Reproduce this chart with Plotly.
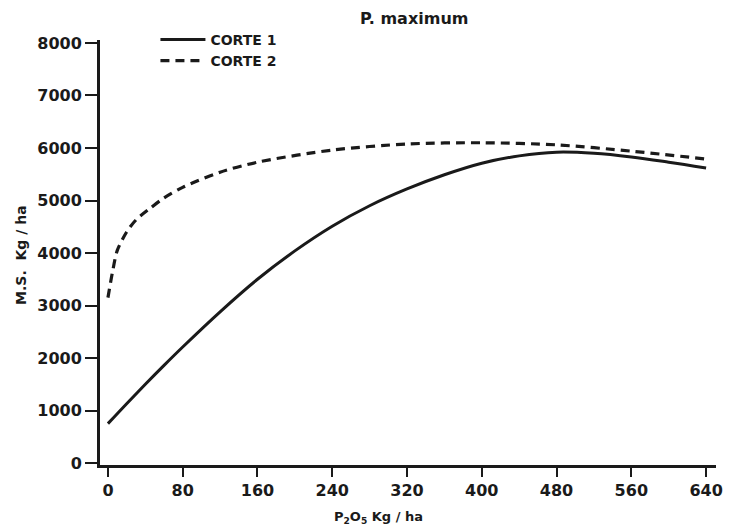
import plotly.graph_objects as go

# P2O5 dose (kg/ha) and dry-matter yield (kg/ha) for each cut
dose_c1 = [0, 20, 40, 60, 80, 120, 160, 200, 240, 280, 320, 360, 400, 440, 480, 520, 560, 600, 640]
yield_c1 = [750, 1130, 1500, 1860, 2210, 2880, 3500, 4040, 4510, 4900, 5220, 5490, 5710, 5850, 5920, 5900, 5830, 5730, 5620]

dose_c2 = [0, 5, 10, 20, 30, 45, 60, 80, 120, 160, 240, 320, 400, 480, 560, 640]
yield_c2 = [3150, 3650, 4050, 4400, 4630, 4850, 5050, 5250, 5540, 5730, 5960, 6076, 6100, 6060, 5940, 5790]

x_ticks = [0, 80, 160, 240, 320, 400, 480, 560, 640]
y_ticks = [0, 1000, 2000, 3000, 4000, 5000, 6000, 7000, 8000]

FONT = "DejaVu Sans"
INK = "#1a1a1a"

fig = go.Figure()
fig.add_trace(go.Scatter(
    x=dose_c1, y=yield_c1, mode="lines", name="CORTE 1",
    line=dict(color=INK, width=3, shape="spline", smoothing=1.0),
))
fig.add_trace(go.Scatter(
    x=dose_c2, y=yield_c2, mode="lines", name="CORTE 2",
    line=dict(color=INK, width=3.2, dash="9px,6px", shape="spline", smoothing=0.8),
))

fig.update_layout(
    width=734, height=529,
    margin=dict(l=100, r=11, t=40, b=64),
    paper_bgcolor="white", plot_bgcolor="white",
    font=dict(family=FONT, color=INK, size=14, weight="bold"),
    showlegend=True,
    legend=dict(
        x=0.09, y=1.038, xanchor="left", yanchor="top",
        bgcolor="rgba(0,0,0,0)", font=dict(size=14, weight="bold"),
        itemwidth=45, tracegroupgap=2,
    ),
    xaxis=dict(
        range=[-8.5, 650.6], tickvals=x_ticks, ticks="outside", ticklen=9,
        tickwidth=2, tickcolor=INK, showline=True, linewidth=3, linecolor=INK,
        showgrid=False, zeroline=False, tickfont=dict(size=16, weight="bold"),
    ),
    yaxis=dict(
        range=[-38, 8057], tickvals=y_ticks, ticks="outside", ticklen=12,
        tickwidth=2, tickcolor=INK, showline=True, linewidth=3, linecolor=INK,
        showgrid=False, zeroline=False, tickfont=dict(size=16, weight="bold"),
    ),
    annotations=[
        dict(text="P. maximum", xref="paper", yref="paper",
             x=(418 - 100) / 623, y=(465 - 18) / 425, xanchor="center", yanchor="middle",
             showarrow=False, font=dict(size=16, weight="bold")),
        dict(text="M.S.  Kg / ha", xref="paper", yref="paper",
             x=(20 - 100) / 623, y=(465 - 255) / 425, xanchor="center", yanchor="middle",
             textangle=-90, showarrow=False, font=dict(size=14, weight="bold")),
        dict(text="P<sub>2</sub>O<sub>5</sub> Kg / ha", xref="paper", yref="paper",
             x=(382 - 100) / 623, y=(465 - 517) / 425, xanchor="center", yanchor="middle",
             showarrow=False, font=dict(size=13, weight="bold")),
    ],
)

fig.write_html("out.html")
